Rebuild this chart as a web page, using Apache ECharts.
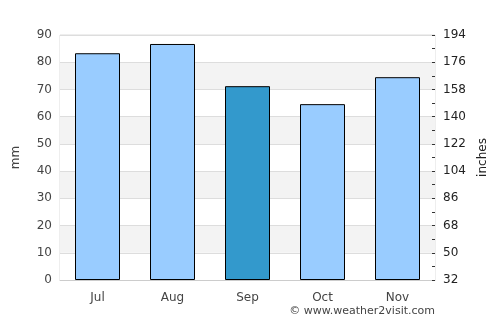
<!DOCTYPE html>
<html>
<head>
<meta charset="utf-8">
<script src="https://cdn.jsdelivr.net/npm/echarts@6/dist/echarts.min.js"></script>
<style>
html,body{margin:0;padding:0;background:#fff;}
#main{width:500px;height:325px;}
</style>
</head>
<body>
<div id="main"></div>
<script>
var months = ['Jul', 'Aug', 'Sep', 'Oct', 'Nov'];
var rainMm = [83.3, 86.7, 71.2, 64.6, 74.5];
var highlight = 'Sep';

var chart = echarts.init(document.getElementById('main'));

var barData = months.map(function (m, i) {
  return {
    value: rainMm[i],
    itemStyle: {color: m == highlight ? '#3399cc' : '#99ccff'}
  };
});

chart.setOption({
  animation: false,
  grid: {left: 60, right: 65, top: 35, bottom: 45, show: true, borderColor: '#dddddd', borderWidth: 1},
  xAxis: {
    type: 'category',
    data: months,
    axisLine: {lineStyle: {color: '#cccccc'}},
    axisTick: {show: false},
    axisLabel: {color: '#444', fontFamily: 'DejaVu Sans', fontSize: 12, margin: 12}
  },
  yAxis: [{
    type: 'value',
    min: 0, max: 90, interval: 10,
    name: 'mm',
    nameLocation: 'middle',
    nameGap: 38,
    nameTextStyle: {color: '#444', fontFamily: 'DejaVu Sans', fontSize: 12},
    axisLine: {show: false},
    axisTick: {show: false},
    axisLabel: {color: '#444', fontFamily: 'DejaVu Sans', fontSize: 12, margin: 8},
    splitLine: {lineStyle: {color: '#dddddd'}},
    splitArea: {show: true, areaStyle: {color: ['#ffffff', '#f3f3f3']}}
  }, {
    type: 'value',
    position: 'right',
    min: 32, max: 194, interval: 18,
    name: 'inches',
    nameLocation: 'middle',
    nameGap: 42,
    nameRotate: 90,
    nameTextStyle: {color: '#222', fontFamily: 'DejaVu Sans', fontSize: 12},
    axisLine: {show: false},
    axisTick: {show: true, inside: true, length: 3, lineStyle: {color: '#333'}},
    minorTick: {show: true, splitNumber: 2, length: 3, lineStyle: {color: '#333'}},
    axisLabel: {color: '#222', fontFamily: 'DejaVu Sans', fontSize: 12, margin: 8},
    splitLine: {show: false}
  }],
  series: [{
    type: 'bar',
    data: barData,
    barWidth: '60%',
    itemStyle: {borderColor: '#000', borderWidth: 1}
  }],
  graphic: [{
    type: 'text',
    right: 65,
    top: 306,
    style: {text: '© www.weather2visit.com', fill: '#444', font: '11px DejaVu Sans'}
  }]
});
</script>
</body>
</html>
